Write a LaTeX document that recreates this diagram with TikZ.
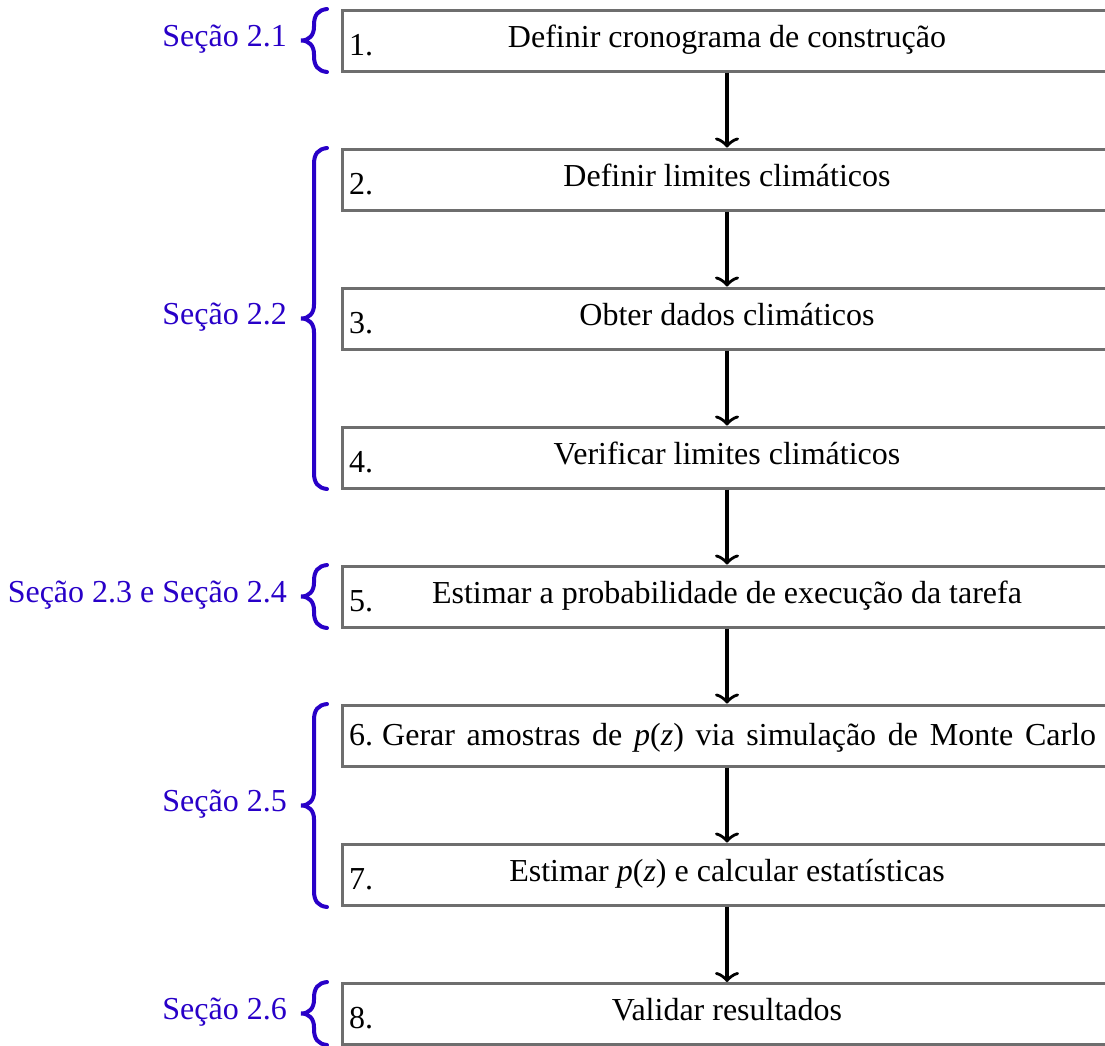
\documentclass[tikz,border=0pt]{standalone}
\usepackage{fontspec}
\setmainfont{Liberation Serif}
\usetikzlibrary{arrows.meta}
\definecolor{secblue}{RGB}{40,0,200}
\definecolor{boxgray}{RGB}{110,110,110}
\newcommand{\secbrace}[2]{%
  \pgfmathsetmacro\bmid{(#1+#2)/2}%
  \draw[brc] (327,#1) .. controls (318,#1+1) and (314,#1+6) .. (314,#1+16)
    -- (314,\bmid-14) .. controls (314,\bmid-5) and (309,\bmid) .. (301,\bmid)
    .. controls (309,\bmid) and (314,\bmid+5) .. (314,\bmid+14)
    -- (314,#2-16) .. controls (314,#2-6) and (318,#2-1) .. (327,#2);
}
\begin{document}
\begin{tikzpicture}[x=1pt,y=-1pt,
  every node/.style={font=\fontsize{32}{38}\selectfont, inner sep=0pt},
  box/.style={draw=boxgray, line width=3pt, rectangle, minimum width=800pt, minimum height=61pt, fill=white},
  txt/.style={anchor=base},
  num/.style={anchor=base west},
  lab/.style={anchor=base east, text=secblue},
  arr/.style={line width=3.5pt, -{Classical TikZ Rightarrow[length=10pt,width=24pt]}},
  brc/.style={draw=secblue, line width=4pt, line cap=round}]
\useasboundingbox (0,0) rectangle (1105,1045);
% boxes (right side runs past the picture edge)
\node[box] (b1) at (742,40.5) {};
\node[box] (b2) at (742,179.5) {};
\node[box] (b3) at (742,318.5) {};
\node[box] (b4) at (742,457.5) {};
\node[box] (b5) at (742,596.5) {};
\node[box] (b6) at (742,735.5) {};
\node[box] (b7) at (742,874.5) {};
\node[box] (b8) at (742,1014) {};
% numbers
\node[num] (n1) at (349,55.5) {1.};
\node[num] (n2) at (349,194.5) {2.};
\node[num] (n3) at (349,333.5) {3.};
\node[num] (n4) at (349,472.5) {4.};
\node[num] (n5) at (349,611.5) {5.};
\node[num] (n7) at (349,889.5) {7.};
\node[num] (n8) at (349,1028.5) {8.};
% texts
\node[txt] (t1) at (727,47.5) {Definir cronograma de construção};
\node[txt] (t2) at (727,186.5) {Definir limites climáticos};
\node[txt] (t3) at (727,325.5) {Obter dados climáticos};
\node[txt] (t4) at (727,464.5) {Verificar limites climáticos};
\node[txt] (t5) at (727,603.5) {Estimar a probabilidade de execução da tarefa};
\node[num] (t6) at (349,745) {6.\hspace{9pt}\makebox[714pt][s]{Gerar amostras de \textit{p}(\textit{z}) via simulação de Monte Carlo}};
\node[txt] (t7) at (727,881.5) {Estimar \textit{p}(\textit{z}) e calcular estatísticas};
\node[txt] (t8) at (727,1020.5) {Validar resultados};
% arrows
\draw[arr] (t1 |- b1.south) -- (t1 |- b2.north);
\draw[arr] (t1 |- b2.south) -- (t1 |- b3.north);
\draw[arr] (t1 |- b3.south) -- (t1 |- b4.north);
\draw[arr] (t1 |- b4.south) -- (t1 |- b5.north);
\draw[arr] (t1 |- b5.south) -- (t1 |- b6.north);
\draw[arr] (t1 |- b6.south) -- (t1 |- b7.north);
\draw[arr] (t1 |- b7.south) -- (t1 |- b8.north);
% braces
\secbrace{9}{72}
\secbrace{148}{489}
\secbrace{565}{628}
\secbrace{704}{907}
\secbrace{982}{1045}
% labels
\node[lab] (s1) at (287,46) {Seção 2.1};
\node[lab] (s2) at (287,324) {Seção 2.2};
\node[lab] (s3) at (287,602) {Seção 2.3 e Seção 2.4};
\node[lab] (s4) at (287,811) {Seção 2.5};
\node[lab] (s5) at (287,1019) {Seção 2.6};
\end{tikzpicture}
\end{document}
